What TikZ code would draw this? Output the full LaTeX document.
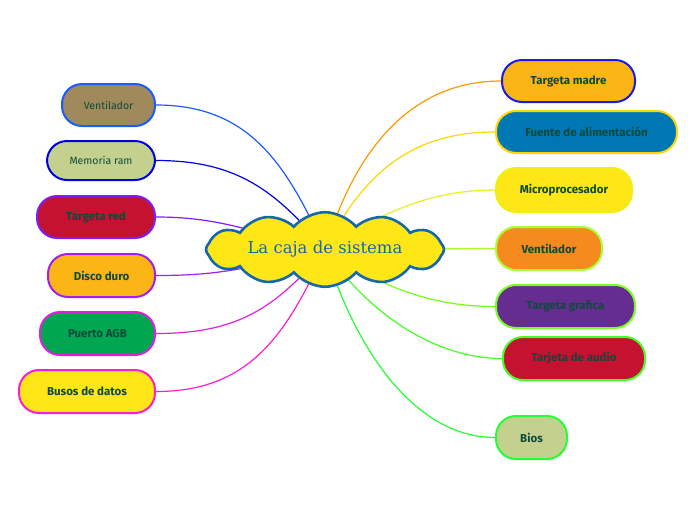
\documentclass[tikz,border=0pt]{standalone}
\usepackage{fontspec}
\setmainfont{DejaVu Serif}
\newfontfamily\labelfont{Fira Sans}
\usetikzlibrary{shapes.symbols,backgrounds}

\definecolor{txtgreen}{HTML}{0E4A3A}
\definecolor{titleblue}{HTML}{1668A8}
\definecolor{cloudyellow}{HTML}{FFE617}
\definecolor{brownfill}{HTML}{A0895A}
\definecolor{palegreen}{HTML}{C4D18E}
\definecolor{redfill}{HTML}{C41230}
\definecolor{amberfill}{HTML}{FBB515}
\definecolor{greenfill}{HTML}{00A650}
\definecolor{bluefill}{HTML}{0077B5}
\definecolor{orangefill}{HTML}{F58A1F}
\definecolor{purplefill}{HTML}{662D91}

\tikzset{
  topic/.style={draw, line width=2pt, rounded corners=20pt, inner sep=0pt,
    text=txtgreen, font=\labelfont\bfseries\fontsize{11.5}{13}\selectfont},
  thintopic/.style={topic, font=\labelfont\fontsize{10.5}{13}\selectfont},
  link/.style={line width=1.2pt}
}

\begin{document}
\begin{tikzpicture}[x=1pt,y=-1pt]
\useasboundingbox (0,0) rectangle (696,520);
\node[cloud, cloud puffs=12, cloud puff arc=100, aspect=4.4, inner sep=0pt,
      draw=titleblue, line width=2.6pt, fill=cloudyellow,
      minimum width=238pt, minimum height=56pt,
      text=titleblue, font=\fontsize{16.5}{18}\selectfont] (caja) at (325,249.5) {La caja de sistema};

% izquierda
\node[thintopic, draw={rgb,255:red,26;green,92;blue,255}, fill=brownfill,
      minimum width=93pt, minimum height=42pt] (ventizq) at (108.5,105) {Ventilador};
\node[thintopic, draw={rgb,255:red,0;green,0;blue,230}, fill=palegreen,
      minimum width=108pt, minimum height=39pt] (memoria) at (101,160.5) {Memoria ram};
\node[topic, draw={rgb,255:red,123;green,31;blue,255}, fill=redfill,
      minimum width=118pt, minimum height=42pt] (red) at (96,217) {Targeta red};
\node[topic, draw={rgb,255:red,160;green,32;blue,240}, fill=amberfill,
      minimum width=107pt, minimum height=43pt] (disco) at (101.5,275.5) {Disco duro};
\node[topic, draw={rgb,255:red,224;green,32;blue,224}, fill=greenfill,
      minimum width=115pt, minimum height=43pt] (puerto) at (97.5,333.5) {Puerto AGB};
\node[topic, draw={rgb,255:red,255;green,29;blue,206}, fill=cloudyellow,
      minimum width=136pt, minimum height=43pt] (busos) at (87,391.5) {Busos de datos};

% derecha
\node[topic, draw={rgb,255:red,26;green,26;blue,238}, fill=amberfill,
      minimum width=133pt, minimum height=42pt] (madre) at (568.5,81) {Targeta madre};
\node[topic, draw={rgb,255:red,255;green,215;blue,0}, fill=bluefill,
      minimum width=181pt, minimum height=42pt] (fuente) at (586.5,132) {Fuente de alimentación};
\node[topic, draw={rgb,255:red,238;green,240;blue,16}, fill=cloudyellow,
      minimum width=136pt, minimum height=44pt] (micro) at (564,190) {Microprocesador};
\node[topic, draw={rgb,255:red,170;green,255;blue,51}, fill=orangefill,
      minimum width=106pt, minimum height=43pt] (ventder) at (549,248.5) {Ventilador};
\node[topic, draw={rgb,255:red,119;green,255;blue,34}, fill=purplefill,
      minimum width=139pt, minimum height=43pt] (grafica) at (565.5,306.5) {Targeta grafica};
\node[topic, draw={rgb,255:red,68;green,255;blue,34}, fill=redfill,
      minimum width=142pt, minimum height=43pt] (audio) at (574,358.5) {Tarjeta de audio};
\node[topic, draw={rgb,255:red,34;green,255;blue,51}, fill=palegreen,
      minimum width=71pt, minimum height=43pt] (bios) at (531.5,437.5) {Bios};

\begin{pgfonlayer}{background}
\draw[link, draw={rgb,255:red,26;green,92;blue,255}] (caja.center) .. controls +(-40,-90) and +(90,0) .. (ventizq.east);
\draw[link, draw={rgb,255:red,0;green,0;blue,230}] (caja.center) .. controls +(-50,-60) and +(80,0) .. (memoria.east);
\draw[link, draw={rgb,255:red,123;green,31;blue,255}] (caja.center) .. controls +(-80,-20) and +(60,0) .. (red.east);
\draw[link, draw={rgb,255:red,160;green,32;blue,240}] (caja.center) .. controls +(-80,20) and +(60,0) .. (disco.east);
\draw[link, draw={rgb,255:red,224;green,32;blue,224}] (caja.center) .. controls +(-50,60) and +(80,0) .. (puerto.east);
\draw[link, draw={rgb,255:red,255;green,29;blue,206}] (caja.center) .. controls +(-40,90) and +(90,0) .. (busos.east);
\draw[link, draw={rgb,255:red,255;green,153;blue,0}] (caja.center) .. controls +(30,-100) and +(-90,0) .. (madre.west);
\draw[link, draw={rgb,255:red,255;green,215;blue,0}] (caja.center) .. controls +(40,-80) and +(-80,0) .. (fuente.west);
\draw[link, draw={rgb,255:red,230;green,240;blue,32}] (caja.center) .. controls +(60,-40) and +(-60,0) .. (micro.west);
\draw[link, draw={rgb,255:red,170;green,255;blue,34}] (caja.center) .. controls +(60,0) and +(-40,0) .. (ventder.west);
\draw[link, draw={rgb,255:red,119;green,255;blue,17}] (caja.center) .. controls +(60,40) and +(-60,0) .. (grafica.west);
\draw[link, draw={rgb,255:red,68;green,255;blue,34}] (caja.center) .. controls +(40,60) and +(-70,0) .. (audio.west);
\draw[link, draw={rgb,255:red,34;green,255;blue,51}] (caja.center) .. controls +(30,100) and +(-80,0) .. (bios.west);
\end{pgfonlayer}
\end{tikzpicture}
\end{document}
